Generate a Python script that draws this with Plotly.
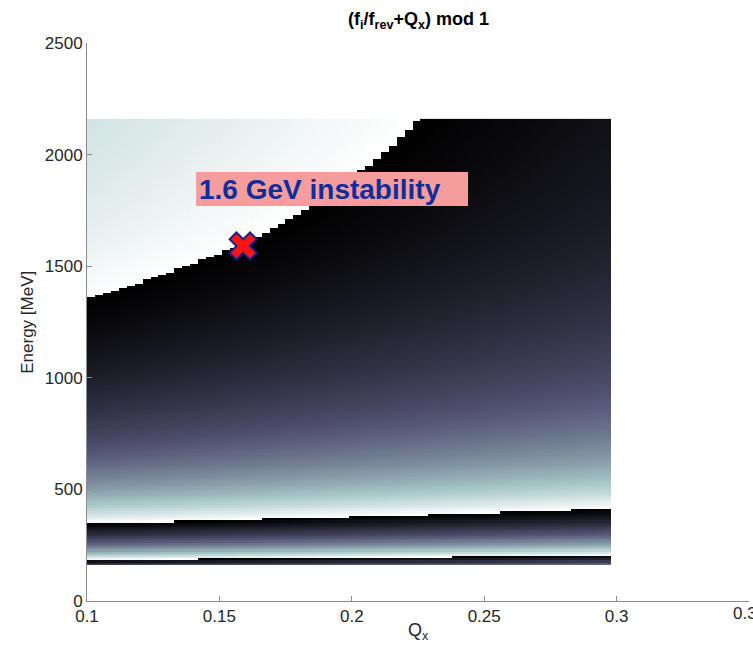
import numpy as np
import plotly.graph_objects as go

# Horizontal tune grid (cell edges) and beam energy grid (cell edges, MeV)
qx_edges = np.round(0.1 + 0.003 * np.arange(67), 3)          # 0.100 ... 0.298
energy_edges = np.arange(160, 2161, 10)                        # 160 ... 2160 MeV

# Ion oscillation frequency in units of the revolution frequency, one value per energy row
# (rows start at 160 MeV, 10 MeV apart)
fi_over_frev = [
    4.0821, 3.9663, 3.8604, 3.7634, 3.6740, 3.5915, 3.5150, 3.4439, 3.3777, 3.3159,
    3.2581, 3.2038, 3.1529, 3.1049, 3.0596, 3.0168, 2.9764, 2.9380, 2.9016, 2.8670,
    2.8341, 2.8028, 2.7729, 2.7443, 2.7171, 2.6910, 2.6660, 2.6420, 2.6190, 2.5970,
    2.5758, 2.5554, 2.5357, 2.5168, 2.4986, 2.4811, 2.4641, 2.4477, 2.4319, 2.4166,
    2.4018, 2.3875, 2.3736, 2.3602, 2.3472, 2.3346, 2.3223, 2.3104, 2.2989, 2.2877,
    2.2767, 2.2661, 2.2558, 2.2458, 2.2360, 2.2265, 2.2173, 2.2082, 2.1994, 2.1909,
    2.1825, 2.1743, 2.1663, 2.1586, 2.1510, 2.1436, 2.1363, 2.1292, 2.1223, 2.1155,
    2.1089, 2.1024, 2.0961, 2.0899, 2.0838, 2.0778, 2.0720, 2.0663, 2.0607, 2.0552,
    2.0498, 2.0446, 2.0394, 2.0343, 2.0294, 2.0245, 2.0197, 2.0150, 2.0104, 2.0059,
    2.0014, 1.9970, 1.9927, 1.9885, 1.9844, 1.9803, 1.9763, 1.9724, 1.9685, 1.9647,
    1.9610, 1.9573, 1.9537, 1.9501, 1.9466, 1.9432, 1.9398, 1.9364, 1.9331, 1.9299,
    1.9267, 1.9236, 1.9205, 1.9174, 1.9144, 1.9114, 1.9085, 1.9057, 1.9028, 1.9000,
    1.8973, 1.8946, 1.8919, 1.8892, 1.8866, 1.8841, 1.8815, 1.8790, 1.8766, 1.8742,
    1.8717, 1.8694, 1.8670, 1.8647, 1.8625, 1.8602, 1.8580, 1.8558, 1.8536, 1.8515,
    1.8494, 1.8473, 1.8452, 1.8432, 1.8412, 1.8395, 1.8379, 1.8363, 1.8347, 1.8331,
    1.8315, 1.8300, 1.8286, 1.8271, 1.8256, 1.8241, 1.8228, 1.8213, 1.8199, 1.8185,
    1.8172, 1.8159, 1.8146, 1.8133, 1.8120, 1.8107, 1.8095, 1.8083, 1.8071, 1.8058,
    1.8047, 1.8036, 1.8024, 1.8012, 1.8001, 1.7991, 1.7980, 1.7969, 1.7958, 1.7947,
    1.7938, 1.7927, 1.7917, 1.7907, 1.7898, 1.7888, 1.7878, 1.7869, 1.7859, 1.7851,
    1.7842, 1.7832, 1.7823, 1.7814, 1.7806, 1.7798, 1.7789, 1.7781, 1.7773, 1.7765,
]

# Observed instability point
instab_qx = [0.159]
instab_energy = [1590]
instab_label = "1.6 GeV instability"

x_ticks = [0.1, 0.15, 0.2, 0.25, 0.3]
x_ticktext = ["0.1", "0.15", "0.2", "0.25", "0.3"]
x_last_tick = 0.35
x_last_text = "0.35"
y_ticks = [0, 500, 1000, 1500, 2000, 2500]

# Colour value of each cell: (f_i/f_rev + Q_x) mod 1, taken at the lower-left node
qx_nodes = qx_edges[:-1]
z = np.mod(np.array(fi_over_frev)[:, None] + qx_nodes[None, :], 1.0)

# MATLAB "bone" colormap (piecewise linear)
bone = [
    [0.0, "rgb(0,0,0)"],
    [0.375, "rgb(84,84,116)"],
    [0.75, "rgb(167,199,199)"],
    [1.0, "rgb(255,255,255)"],
]

FONT = "Liberation Sans, Arial, Helvetica, sans-serif"
TXT = "#262626"
AXC = "#8c8c8c"

fig = go.Figure()
fig.add_trace(go.Heatmap(
    x=qx_edges, y=energy_edges, z=z,
    colorscale=bone, zmin=0, zmax=1, showscale=False, zsmooth=False,
    hoverinfo="skip",
))
fig.add_trace(go.Scatter(
    x=instab_qx, y=instab_energy, mode="markers",
    marker=dict(symbol="x", size=24, color="#ff1414",
                line=dict(color="#14238c", width=2)),
    hoverinfo="skip", showlegend=False,
))

# Label box
fig.add_shape(type="rect", xref="x", yref="y",
              x0=0.1412, x1=0.2439, y0=1770, y1=1922,
              fillcolor="#f59d9d", line=dict(width=0), layer="above")
fig.add_annotation(x=0.1414, y=1844, xref="x", yref="y",
                   text="<b>" + instab_label + "</b>", showarrow=False,
                   xanchor="left", yanchor="middle",
                   font=dict(family=FONT, size=28, color="#0f2d9b"))

# Last x tick label, partly running off the right edge
fig.add_annotation(x=x_last_tick, y=0, xref="x", yref="paper",
                   text=x_last_text, showarrow=False,
                   xanchor="center", yanchor="top", yshift=-1,
                   font=dict(family=FONT, size=17, color=TXT))

# Title and axis labels
fig.add_annotation(x=0.5, y=1.04, xref="paper", yref="paper",
                   text="<b>(f<sub>i</sub>/f<sub>rev</sub>+Q<sub>x</sub>) mod 1</b>",
                   showarrow=False, xanchor="center", yanchor="middle",
                   font=dict(family=FONT, size=18, color="#000000"))
fig.add_annotation(x=0.5, y=-0.055, xref="paper", yref="paper",
                   text="Q<sub>x</sub>", showarrow=False,
                   xanchor="center", yanchor="middle",
                   font=dict(family=FONT, size=18, color=TXT))
fig.add_annotation(x=-0.091, y=0.5, xref="paper", yref="paper",
                   text="Energy [MeV]", showarrow=False, textangle=-90,
                   xanchor="center", yanchor="middle",
                   font=dict(family=FONT, size=17, color=TXT))

fig.update_layout(
    width=753, height=659,
    margin=dict(l=87, r=4, t=43, b=58),
    paper_bgcolor="white", plot_bgcolor="white",
    showlegend=False,
    font=dict(family=FONT, size=17, color=TXT),
    xaxis=dict(range=[0.1, 0.35], tickvals=x_ticks + [x_last_tick],
               ticktext=x_ticktext + [""],
               showgrid=False, zeroline=False, showline=True, linecolor=AXC,
               linewidth=1, ticks="inside", ticklen=5, tickcolor=AXC,
               tickfont=dict(family=FONT, size=17, color=TXT)),
    yaxis=dict(range=[0, 2500], tickvals=y_ticks,
               showgrid=False, zeroline=False, showline=True, linecolor=AXC,
               linewidth=1, ticks="inside", ticklen=5, tickcolor=AXC,
               tickfont=dict(family=FONT, size=17, color=TXT)),
)

fig.write_html("out.html")
